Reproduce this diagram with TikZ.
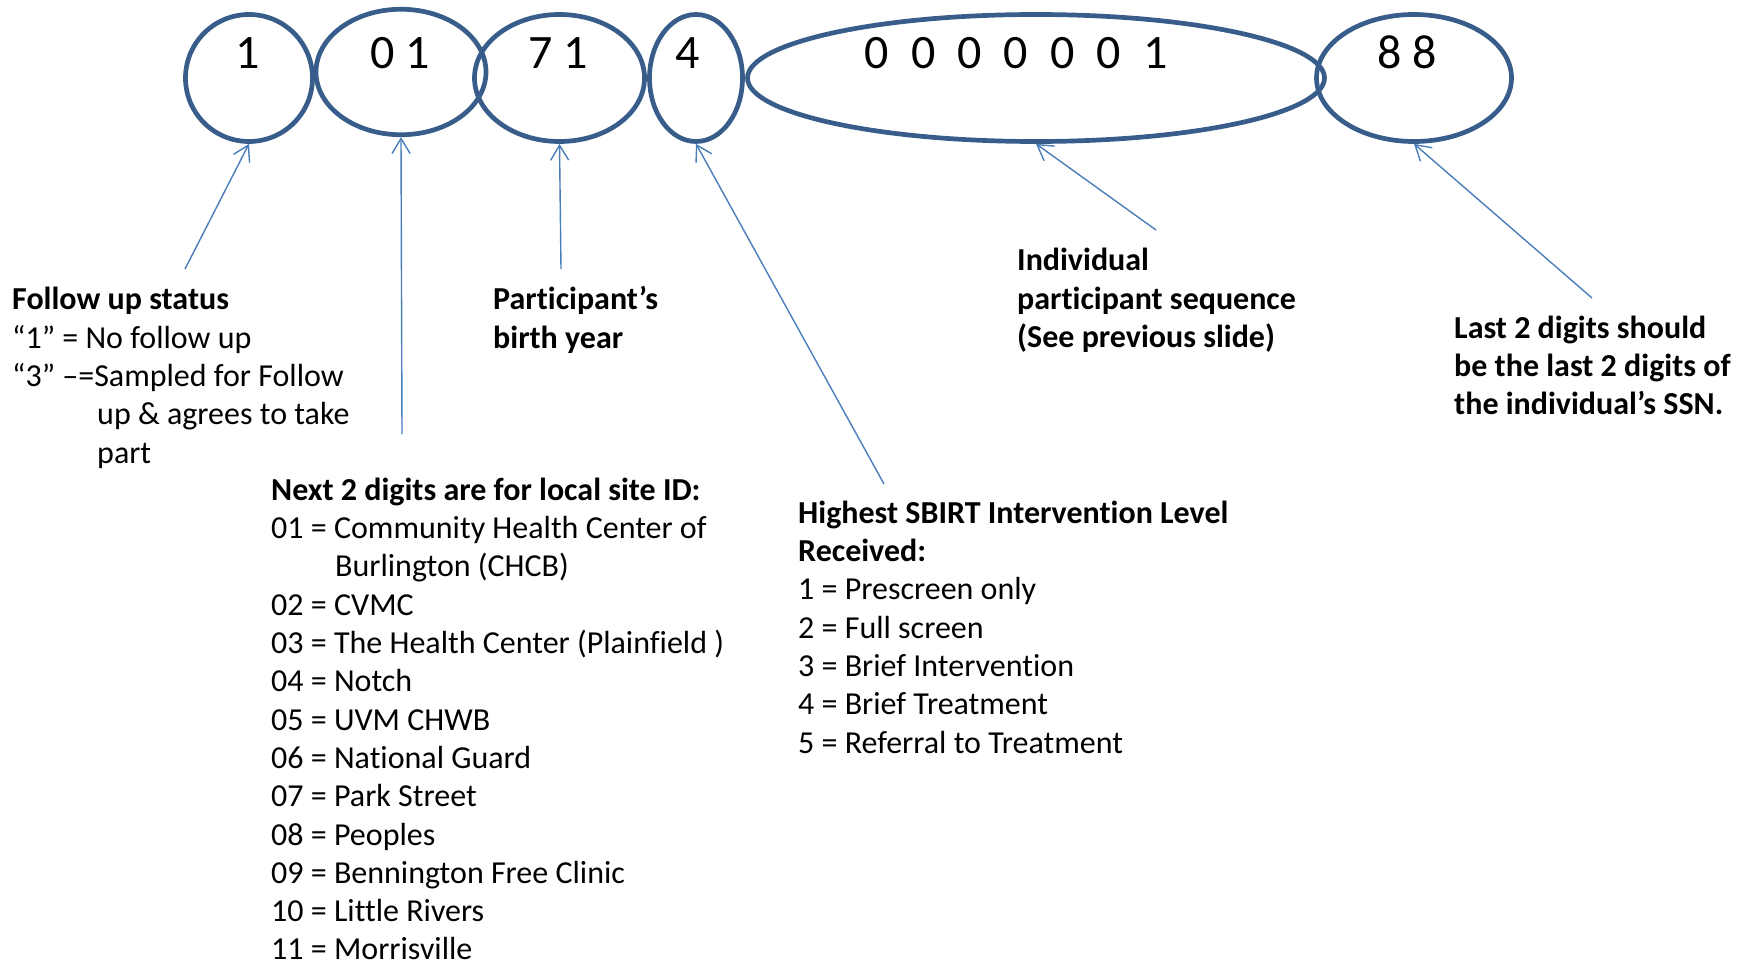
\documentclass[tikz,border=0pt]{standalone}
\usepackage{fontspec}
\setmainfont{Carlito}[Ligatures=NoCommon]
\usetikzlibrary{shapes.geometric,arrows.meta}
\definecolor{ringblue}{RGB}{56,93,138}
\definecolor{arrowblue}{RGB}{74,126,187}
\tikzset{
  ring/.style={draw=ringblue, line width=4.7pt, ellipse, inner sep=0pt},
  digit/.style={anchor=base, inner sep=0pt, font=\fontsize{48}{50}\selectfont},
  lbl/.style={anchor=base west, inner sep=0pt, font=\fontsize{32}{38}\selectfont},
  lblb/.style={lbl, font=\fontsize{32}{38}\selectfont\bfseries},
  pointer/.style={draw=arrowblue, line width=1.4pt, -{Straight Barb[length=15pt,width=18pt,line width=1.4pt]}}
}
\begin{document}
\begin{tikzpicture}[x=1pt,y=-1pt]
\useasboundingbox (0,0) rectangle (1750,963);
% rings
\node[ring, minimum width=127pt, minimum height=127pt] (e1) at (249,78) {};
\node[ring, minimum width=170pt, minimum height=125.5pt] (e2) at (401,72) {};
\node[ring, minimum width=170pt, minimum height=127pt] (e3) at (559.5,78) {};
\node[ring, minimum width=93pt, minimum height=127pt] (e4) at (696,78) {};
\node[ring, minimum width=577pt, minimum height=127pt] (e5) at (1036,78) {};
\node[ring, minimum width=195pt, minimum height=127pt] (e6) at (1414,78) {};
% digits
\node[digit] (d1) at (248,69) {1};
\node[digit] (d2) at (400,69) {0 1};
\node[digit] (d3) at (558,69) {7 1};
\node[digit] (d4) at (688,69) {4};
\node[digit] (d5) at (1016,69) {\spaceskip=0.46em\relax 0 0 0 0 0 0 1};
\node[digit] (d6) at (1407,69) {8 8};
% pointer tails
\coordinate (t1) at (185,269);
\coordinate (t2) at (402,434);
\coordinate (t3) at (561,269);
\coordinate (t4) at (884,484);
\coordinate (t5) at (1156,230);
\coordinate (t6) at (1592,298);
\draw[pointer] (t1) -- (e1.south);
\draw[pointer] (t2) -- (e2.south);
\draw[pointer] (t3) -- (e3.south);
\draw[pointer] (t4) -- (e4.south);
\draw[pointer] (t5) -- (e5.south);
\draw[pointer] (t6) -- (e6.south);
% follow up status
\node[lblb] (fu1) at (12,309.8) {Follow up status};
\node[lbl] (fu2) at (12,348.1) {“1” = No follow up};
\node[lbl] (fu3) at (12,386.4) {“3” –=Sampled for Follow};
\node[lbl] (fu4) at (97,424.7) {up \& agrees to take};
\node[lbl] (fu5) at (97,463) {part};
% birth year
\node[lblb] (by1) at (493,309.8) {Participant’s};
\node[lblb] (by2) at (493,348.1) {birth year};
% individual sequence
\node[lblb] (is1) at (1017,270.9) {Individual};
\node[lblb] (is2) at (1017,309.2) {participant sequence};
\node[lblb] (is3) at (1017,347.5) {(See previous slide)};
% SSN
\node[lblb] (ss1) at (1454,338) {Last 2 digits should};
\node[lblb] (ss2) at (1454,376.3) {be the last 2 digits of};
\node[lblb] (ss3) at (1454,414.6) {the individual’s SSN.};
% site ID
\node[lblb] (si0) at (271,500.3) {Next 2 digits are for local site ID:};
\node[lbl] (si1) at (271,538.6) {01 = Community Health Center of};
\node[lbl] (si1b) at (335,576.9) {Burlington (CHCB)};
\node[lbl] (si2) at (271,615.2) {02 = CVMC};
\node[lbl] (si3) at (271,653.5) {03 = The Health Center (Plainfield )};
\node[lbl] (si4) at (271,691.8) {04 = Notch};
\node[lbl] (si5) at (271,730.1) {05 = UVM CHWB};
\node[lbl] (si6) at (271,768.4) {06 = National Guard};
\node[lbl] (si7) at (271,806.7) {07 = Park Street};
\node[lbl] (si8) at (271,845) {08 = Peoples};
\node[lbl] (si9) at (271,883.3) {09 = Bennington Free Clinic};
\node[lbl] (si10) at (271,921.6) {10 = Little Rivers};
\node[lbl] (si11) at (271,959.9) {11 = Morrisville};
% intervention level
\node[lblb] (il0) at (798,523.3) {Highest SBIRT Intervention Level};
\node[lblb] (il0b) at (798,561.6) {Received:};
\node[lbl] (il1) at (798,599.9) {1 = Prescreen only};
\node[lbl] (il2) at (798,638.2) {2 = Full screen};
\node[lbl] (il3) at (798,676.5) {3 = Brief Intervention};
\node[lbl] (il4) at (798,714.8) {4 = Brief Treatment};
\node[lbl] (il5) at (798,753.1) {5 = Referral to Treatment};
\end{tikzpicture}
\end{document}
